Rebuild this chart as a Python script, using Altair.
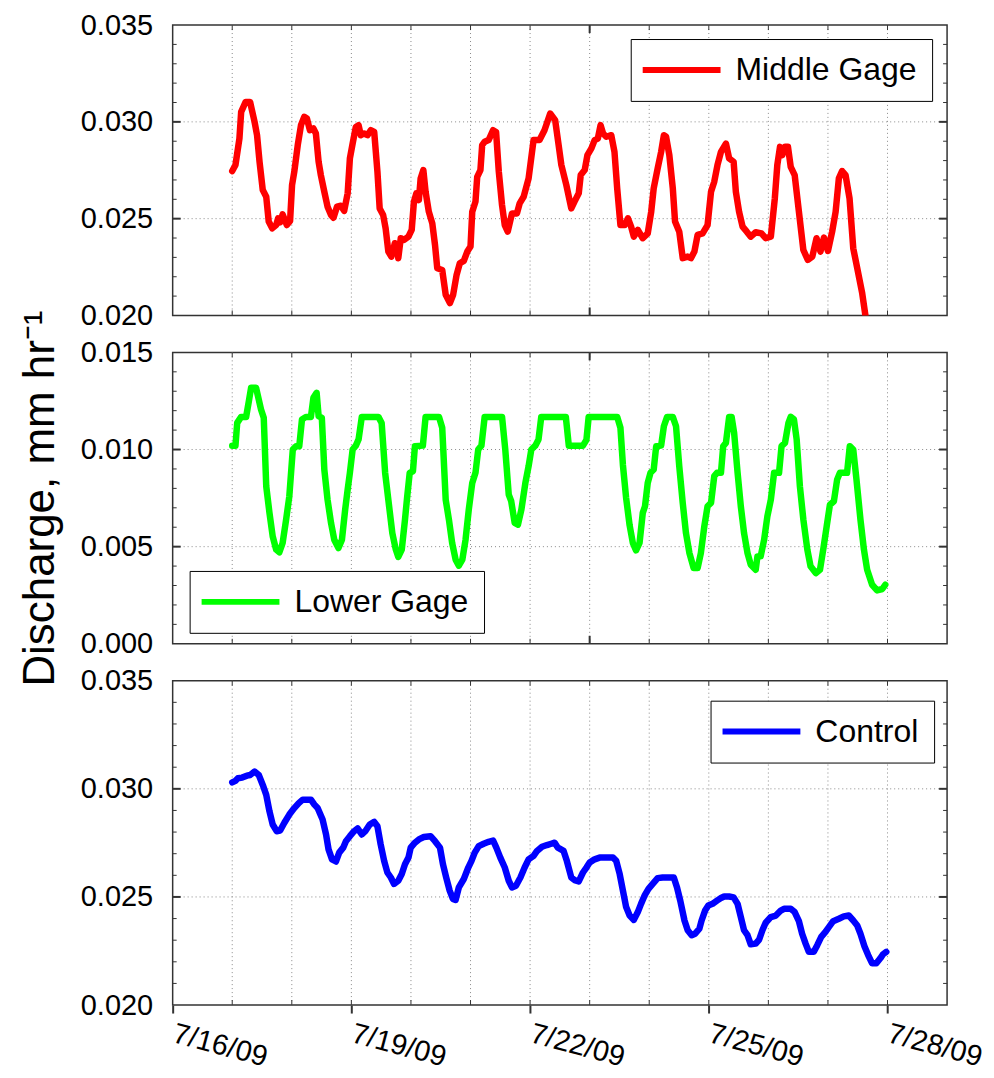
import altair as alt
import pandas as pd

FONT = "Liberation Sans"

# ---------------- data: hours after 7/17/09 00:00, discharge (mm/hr) ----------------
middle_hours = [0, 1.3, 2.9, 3.6, 5.4, 7.2, 9.0, 10.0, 11.0, 12.3, 13.7, 14.7, 16.1, 17.7, 18.5, 19.3, 20.3, 22.0, 23.3,
                24.1, 25.0, 26.4, 27.7, 29.0, 30.1, 31.3, 32.7, 33.7, 34.8, 35.7, 37.1, 38.4, 39.8, 40.8, 42.2, 43.8, 45.1, 46.5, 47.4,
                48.5, 49.8, 50.9, 51.8, 53.1, 54.5, 55.8, 57.2, 58.5, 59.4, 60.8, 61.8, 62.9, 64.1, 65.5, 66.3, 66.9, 67.9, 69.2, 71.0,
                72.3, 73.2, 74.2, 75.2, 75.9, 77.0, 77.9, 79.2, 80.6, 81.7, 82.6, 84.6, 86.0, 87.7, 89.0, 90.4, 91.7, 93.3, 94.7,
                96.0, 96.7, 98.0, 98.7, 100.0, 100.7, 101.7, 103.3, 105.1, 106.3, 107.4, 108.7, 109.8, 111.0, 112.7, 114.7, 115.8, 117.4, 119.4,
                121.4, 123.8, 125.8, 128.1, 130.1, 131.5, 132.6, 134.6, 136.6, 137.9, 139.6, 140.4, 142.0, 143.1,
                144.7, 146.0, 147.3, 148.4, 149.4, 150.7, 152.7, 154.0, 155.1, 156.4, 158.1, 159.4, 160.7, 161.8, 163.4, 165.4, 167.4,
                168.8, 169.8, 171.4, 172.8, 173.9, 174.8, 176.1, 177.5, 178.4, 180.1, 181.5, 183.5, 184.8, 186.2, 187.5, 189.5, 191.5,
                192.9, 194.2, 195.5, 196.9, 198.9, 200.2, 202.0, 202.9, 204.2, 205.6, 207.3, 208.9, 210.9, 213.2, 214.9,
                217.0, 218.6, 219.6, 220.7, 221.6, 222.7, 223.9, 225.0, 226.6, 228.3, 230.1, 231.9, 233.7, 235.4, 237.0, 238.4,
                240.0, 241.7, 243.1, 244.4, 245.7, 247.1, 248.7, 250.2, 251.8, 253.8, 255.1]
middle_values = [0.02746, 0.02777, 0.02914, 0.03052, 0.03103, 0.03103, 0.0300, 0.02931, 0.02794, 0.02648, 0.02613, 0.02485, 0.0245, 0.02467, 0.02502, 0.02481, 0.02522, 0.02467, 0.02488,
                 0.02674, 0.02742, 0.0288, 0.02983, 0.03026, 0.03017, 0.02957, 0.02966, 0.0294, 0.02794, 0.02725, 0.02639, 0.02562, 0.02519, 0.02505, 0.02562, 0.02567, 0.0254, 0.02631, 0.02811,
                 0.02888, 0.02974, 0.02983, 0.02931, 0.0294, 0.02931, 0.02957, 0.02948, 0.02742, 0.02553, 0.02519, 0.0245, 0.0233, 0.02304, 0.02373, 0.02364, 0.02296, 0.02399, 0.0239, 0.02407,
                 0.02442, 0.02588, 0.02631, 0.02596, 0.02708, 0.02751, 0.02639, 0.02536, 0.02476, 0.02364, 0.02244, 0.02235, 0.02107, 0.02064, 0.02107, 0.0221, 0.0227, 0.02282, 0.0233,
                 0.02356, 0.02536, 0.02588, 0.02716, 0.02751, 0.0288, 0.02897, 0.02906, 0.02957, 0.02948, 0.02742, 0.0257, 0.02467, 0.02433, 0.02527, 0.02527, 0.02579, 0.02613, 0.02708,
                 0.02906, 0.02906, 0.02957, 0.03043, 0.03009, 0.0288, 0.02777, 0.02674, 0.02553, 0.02588, 0.02631, 0.02725, 0.02751, 0.02828,
                 0.02863, 0.02906, 0.02914, 0.02983, 0.0294, 0.02923, 0.02931, 0.02845, 0.02656, 0.02467, 0.02467, 0.02502, 0.02459, 0.02407, 0.02442, 0.02399, 0.02424,
                 0.02536, 0.02656, 0.0276, 0.02845, 0.02931, 0.02923, 0.02828, 0.02656, 0.02485, 0.02433, 0.02296, 0.02304, 0.02296, 0.0233, 0.02416, 0.02424, 0.02467,
                 0.02639, 0.02691, 0.02777, 0.02845, 0.02888, 0.02811, 0.02794, 0.02639, 0.02536, 0.02459, 0.02433, 0.02407, 0.0243, 0.02424, 0.02399,
                 0.02407, 0.02605, 0.02777, 0.02871, 0.02828, 0.02871, 0.02871, 0.02768, 0.02725, 0.02536, 0.02338, 0.02287, 0.02304, 0.02399, 0.0233, 0.02402,
                 0.02333, 0.02433, 0.02536, 0.02708, 0.02746, 0.02725, 0.02605, 0.02347, 0.02244, 0.02115, 0.0200]

lower_hours = [0, 1.3, 2.0, 3.6, 5.6, 6.7, 7.6, 9.6, 11.6, 12.7, 13.7, 15.0, 16.3, 17.7, 19.0, 20.3, 21.7, 23.0,
               24.4, 25.7, 27.0, 28.1, 29.7, 31.7, 32.7, 34.0, 34.8, 36.1, 37.1, 38.4, 39.8, 41.1, 42.8, 44.2, 45.5, 46.5, 47.4,
               48.5, 49.8, 50.9, 52.2, 58.9, 60.2, 61.6, 63.2, 64.5, 65.9, 66.9, 68.3, 69.6, 70.5, 71.5,
               72.8, 73.6, 76.8, 77.9, 83.3, 84.6, 86.0, 87.3, 88.6, 90.0, 91.3, 92.7, 94.0, 95.3,
               96.7, 98.0, 99.1, 100.4, 101.7, 108.7, 110.0, 111.4, 112.4, 113.8, 115.1, 116.5, 118.1, 119.4,
               120.5, 122.1, 123.4, 124.5, 134.4, 135.6, 141.3, 142.7, 143.6,
               155.1, 156.4, 157.4, 158.7, 160.1, 161.4, 162.7, 164.1, 165.4, 166.3, 167.4,
               168.5, 169.8, 170.8, 172.8, 173.9, 175.2, 177.5, 178.8, 180.1, 181.5, 182.8, 184.2, 185.9, 187.5, 188.8, 190.2, 191.5,
               192.9, 194.2, 195.3, 196.9, 197.8, 198.9, 200.2, 201.2, 202.2, 203.6, 204.9, 206.2, 207.6, 208.9, 210.9, 211.6, 212.9, 214.3, 215.6,
               217.0, 218.3, 220.3, 221.3, 222.7, 224.1, 225.0, 226.3, 227.4, 228.7, 230.1, 231.7, 233.0, 235.1, 236.8, 238.1, 239.5,
               240.8, 242.4, 243.7, 244.8, 247.7, 248.8, 250.2, 251.5, 253.1, 254.5, 255.8, 257.8, 259.8, 261.9, 263.1]
lower_values = [0.0102, 0.0102, 0.01137, 0.01168, 0.01168, 0.01249, 0.01318, 0.01318, 0.01206, 0.01163, 0.00811, 0.00674, 0.00553, 0.00485, 0.00471, 0.00519, 0.00639, 0.00759,
                0.0100, 0.01017, 0.01017, 0.01155, 0.01168, 0.01168, 0.01266, 0.01292, 0.01172, 0.01163, 0.00897, 0.00742, 0.00622, 0.00536, 0.00493, 0.00536, 0.00691, 0.00794, 0.0088,
                0.0100, 0.0102, 0.01052, 0.01168, 0.01168, 0.01137, 0.0088, 0.00708, 0.0057, 0.00485, 0.00447, 0.00485, 0.00639, 0.00759, 0.0088,
                0.00888, 0.01017, 0.0102, 0.01168, 0.01168, 0.01112, 0.00742, 0.00639, 0.00519, 0.00433, 0.00402, 0.00433, 0.00536, 0.00691,
                0.00828, 0.0088, 0.0100, 0.0102, 0.01168, 0.01168, 0.0100, 0.00768, 0.00734, 0.00622, 0.00613, 0.00691, 0.00828, 0.00914,
                0.0100, 0.0102, 0.01052, 0.01168, 0.01168, 0.0102, 0.0102, 0.0105, 0.01168,
                0.01168, 0.01112, 0.0092, 0.0075, 0.0061, 0.00519, 0.00481, 0.00519, 0.00674, 0.00708, 0.00828,
                0.0088, 0.00897, 0.01017, 0.0102, 0.0112, 0.01168, 0.01168, 0.0112, 0.00914, 0.00725, 0.0057, 0.00467, 0.0039, 0.0039, 0.00467, 0.00605, 0.00708,
                0.00725, 0.00863, 0.0088, 0.0088, 0.01017, 0.01034, 0.01168, 0.01168, 0.01086, 0.0088, 0.00708, 0.0057, 0.00467, 0.00407, 0.00381, 0.0045, 0.0045, 0.00536, 0.00656,
                0.00742, 0.0088, 0.0088, 0.01017, 0.01034, 0.01137, 0.01168, 0.01155, 0.01052, 0.00811, 0.00639, 0.00485, 0.00399, 0.00364, 0.00381, 0.00485, 0.00605,
                0.00716, 0.00734, 0.00845, 0.0088, 0.0088, 0.01017, 0.0100, 0.00845, 0.00639, 0.00485, 0.00381, 0.00304, 0.00275, 0.00282, 0.00304]

control_hours = [0, 1.3, 2.3, 4.0, 5.9, 7.2, 9.0, 10.7, 12.3, 13.7, 15.0, 16.3, 17.9, 19.3, 21.0, 23.0,
                 25.0, 26.8, 28.4, 31.7, 33.1, 34.4, 36.4, 37.8, 38.8, 40.2, 41.8, 43.1, 44.7, 45.8, 47.4,
                 49.1, 50.5, 52.2, 53.8, 55.4, 57.2, 58.5, 59.8, 61.2, 62.5, 63.9, 65.2, 66.9, 68.3, 69.6, 71.0, 71.9,
                 73.6, 75.2, 77.2, 79.9, 81.7, 83.7, 84.9, 86.2, 87.6, 88.9, 90.0, 91.3, 93.3, 95.1,
                 96.4, 97.7, 99.3, 101.3, 103.3, 105.1, 106.4, 108.0, 109.8, 111.4, 112.7, 114.3, 116.1, 117.8, 119.4,
                 121.4, 122.8, 124.8, 126.8, 128.5, 129.9, 131.2, 133.5, 134.8, 136.6, 137.9, 139.6, 141.3, 142.7,
                 144.0, 146.0, 148.0, 150.7, 153.4, 154.7, 156.1, 157.4, 158.7, 160.1, 161.8, 163.4, 164.7, 166.1, 167.7,
                 169.4, 171.4, 173.4, 175.5, 177.9, 179.2, 180.5, 182.2, 183.5, 185.1, 186.5, 188.2, 189.1, 190.5, 191.8,
                 193.5, 195.3, 196.9, 198.2, 200.2, 202.0, 203.6, 204.9, 206.2, 207.6, 208.9, 210.9, 212.3, 213.6, 214.9,
                 217.0, 219.0, 221.0, 222.3, 225.0, 226.6, 228.3, 229.6, 231.0, 232.3, 234.3, 235.7, 237.3, 239.0,
                 240.4, 242.1, 244.4, 246.4, 248.4, 250.2, 251.8, 253.1, 254.7, 256.2, 257.8, 259.5, 261.1, 262.2, 263.5]
control_values = [0.0303, 0.03037, 0.03049, 0.03052, 0.03061, 0.03064, 0.0308, 0.03064, 0.03018, 0.02972, 0.02896, 0.02835, 0.02804, 0.02807, 0.02843, 0.02881,
                  0.02911, 0.02934, 0.0295, 0.0295, 0.02927, 0.02911, 0.02858, 0.02789, 0.0272, 0.02674, 0.02664, 0.02705, 0.02728, 0.02758, 0.02781,
                  0.02804, 0.02817, 0.02789, 0.02807, 0.02835, 0.02847, 0.02827, 0.02743, 0.02667, 0.02613, 0.0259, 0.0256, 0.02575, 0.02606, 0.02651, 0.02682, 0.02728,
                  0.02751, 0.02766, 0.02777, 0.02781, 0.02758, 0.02728, 0.02651, 0.0259, 0.02529, 0.02491, 0.02486, 0.02544, 0.02583, 0.02636,
                  0.02667, 0.02705, 0.02735, 0.02746, 0.02755, 0.02761, 0.02728, 0.02682, 0.02636, 0.02575, 0.02544, 0.02552, 0.0259, 0.02636, 0.02674,
                  0.0269, 0.02713, 0.02732, 0.0274, 0.02746, 0.02751, 0.02728, 0.02713, 0.02667, 0.0259, 0.02578, 0.02572, 0.02613, 0.02636,
                  0.02659, 0.02674, 0.02682, 0.02682, 0.02682, 0.02667, 0.02606, 0.02529, 0.02453, 0.02414, 0.02394, 0.0243, 0.02468, 0.02506, 0.02537,
                  0.0256, 0.02587, 0.0259, 0.0259, 0.0259, 0.02544, 0.02483, 0.02391, 0.02346, 0.02323, 0.0233, 0.02353, 0.02391, 0.02437, 0.0246,
                  0.02468, 0.02483, 0.02495, 0.02502, 0.02502, 0.02498, 0.02468, 0.02407, 0.02346, 0.02323, 0.02281, 0.02284, 0.02303, 0.02346, 0.02381,
                  0.02407, 0.02414, 0.02437, 0.02445, 0.02445, 0.0243, 0.02388, 0.0233, 0.02284, 0.02246, 0.02246, 0.02277, 0.02315, 0.02338,
                  0.02361, 0.02388, 0.02399, 0.0241, 0.02414, 0.02391, 0.02368, 0.0233, 0.02272, 0.02231, 0.02193, 0.02193, 0.02216, 0.02235, 0.02246]

grid_days = ["2009-07-%02dT00:00:00" % d for d in range(17, 29)]   # dotted grid + small ticks
label_days = [16, 19, 22, 25, 28]                                   # labelled date ticks
upper_major_days = ["2009-07-23T00:00:00"]                           # heavy ticks on upper panels

W = 776


def to_df(hours, values):
    assert len(hours) == len(values), (len(hours), len(values))
    t = pd.Timestamp("2009-07-17") + pd.to_timedelta(hours, unit="h")
    return pd.DataFrame({"t": t.strftime("%Y-%m-%dT%H:%M:%S"), "v": values})


def panel(df, name, color, ydom, ymajor, height, lx, ly, bottom=False, ytitle=""):
    xscale = alt.Scale(domain=[alt.DateTime(year=2009, month=7, date=16),
                               alt.DateTime(year=2009, month=7, date=29)])
    if bottom:
        xaxis = alt.Axis(values=[alt.DateTime(year=2009, month=7, date=d) for d in label_days],
                         format="%-m/%d/%y", labelAngle=15, labelAlign="left", labelBaseline="top",
                         labelFontSize=29, labelFont=FONT, labelColor="black", labelPadding=6,
                         labelOffset=4,
                         labelOverlap=False, labelFlush=False, labelBound=False,
                         tickSize=8, tickWidth=2, tickColor="#333333", domain=False, grid=False)
        X = alt.X("t:T", scale=xscale, axis=xaxis, title="")
    else:
        X = alt.X("t:T", scale=xscale, axis=None)
    yaxis = alt.Axis(values=ymajor, format=".3f", ticks=False, domain=False, grid=False,
                     labelFontSize=29, labelFont=FONT, labelColor="black", labelPadding=20,
                     labelOverlap=False, labelBound=False, labelFlush=False,
                     titleFontSize=44, titleFont=FONT, titleFontWeight="normal", titleColor="black",
                     titlePadding=18)
    Y = alt.Y("v:Q", scale=alt.Scale(domain=ydom, nice=False, zero=False), axis=yaxis, title=ytitle)

    step = 0.001
    n = int(round((ydom[1] - ydom[0]) / step))
    minor = [round(ydom[0] + i * step, 4) for i in range(1, n)]
    minor = [m for m in minor if m not in ymajor]
    inner_major = ymajor[1:-1]

    days = pd.DataFrame({"t": grid_days})
    ymin_df = pd.DataFrame({"v": minor})
    ymaj_df = pd.DataFrame({"v": inner_major})

    grid = dict(color="#8a8a8a", strokeWidth=1, strokeDash=[1, 3])
    tk = dict(color="#333333", strokeWidth=1)
    tk2 = dict(color="#333333", strokeWidth=2)

    layers = [
        alt.Chart(days).mark_rule(**grid).encode(x=X),
        alt.Chart(ymaj_df).mark_rule(**grid).encode(y=Y),
        alt.Chart(ymin_df).mark_rule(**tk).encode(y=Y, x=alt.value(0), x2=alt.value(4)),
        alt.Chart(ymin_df).mark_rule(**tk).encode(y=Y, x=alt.value(W - 4), x2=alt.value(W)),
        alt.Chart(ymaj_df).mark_rule(**tk2).encode(y=Y, x=alt.value(0), x2=alt.value(8)),
        alt.Chart(ymaj_df).mark_rule(**tk2).encode(y=Y, x=alt.value(W - 8), x2=alt.value(W)),
        alt.Chart(days).mark_rule(**tk).encode(x=X, y=alt.value(0), y2=alt.value(5)),
        alt.Chart(days).mark_rule(**tk).encode(x=X, y=alt.value(height - 5), y2=alt.value(height)),
    ]
    if not bottom:
        md = pd.DataFrame({"t": upper_major_days})
        layers += [
            alt.Chart(md).mark_rule(**tk2).encode(x=X, y=alt.value(0), y2=alt.value(8)),
            alt.Chart(md).mark_rule(**tk2).encode(x=X, y=alt.value(height - 8), y2=alt.value(height)),
        ]
    # legend: a long horizontal stroke drawn as a custom path (3x the nominal symbol width)
    legend = alt.Legend(orient="none", legendX=lx, legendY=ly, title=None,
                        symbolType="M-3,0H3", symbolStrokeWidth=6, symbolSize=676,
                        symbolOffset=20,
                        labelFontSize=32, labelFont=FONT, labelColor="black", labelOffset=38,
                        labelLimit=600, padding=15, strokeColor="black", fillColor="white")
    line = alt.Chart(df.assign(series=name)).mark_line(
        strokeWidth=6.5, strokeCap="round", strokeJoin="round", clip=True
    ).encode(
        x=X, y=Y,
        color=alt.Color("series:N", scale=alt.Scale(domain=[name], range=[color]), legend=legend),
    )
    return alt.layer(*layers, line).properties(width=W, height=height)


p1 = panel(to_df(middle_hours, middle_values), "Middle Gage", "#ff0000",
           [0.020, 0.035], [0.020, 0.025, 0.030, 0.035], 291, 459, 14)
p2 = panel(to_df(lower_hours, lower_values), "Lower Gage", "#00ff00",
           [0.000, 0.015], [0.000, 0.005, 0.010, 0.015], 292, 17, 219,
           ytitle="Discharge, mm hr\u207b\u00b9")
p3 = panel(to_df(control_hours, control_values), "Control", "#0000ff",
           [0.020, 0.035], [0.020, 0.025, 0.030, 0.035], 325, 539, 20, bottom=True)

chart = alt.vconcat(p1, p2, p3, spacing=37, bounds="flush").resolve_scale(
    color="independent", x="shared"
).properties(
    padding={"left": 9, "top": 1, "right": 0, "bottom": 4}, background="white"
).configure_view(stroke="#333333", strokeWidth=1.5)

chart.save("out.html", embed_options={"renderer": "svg", "actions": False})
